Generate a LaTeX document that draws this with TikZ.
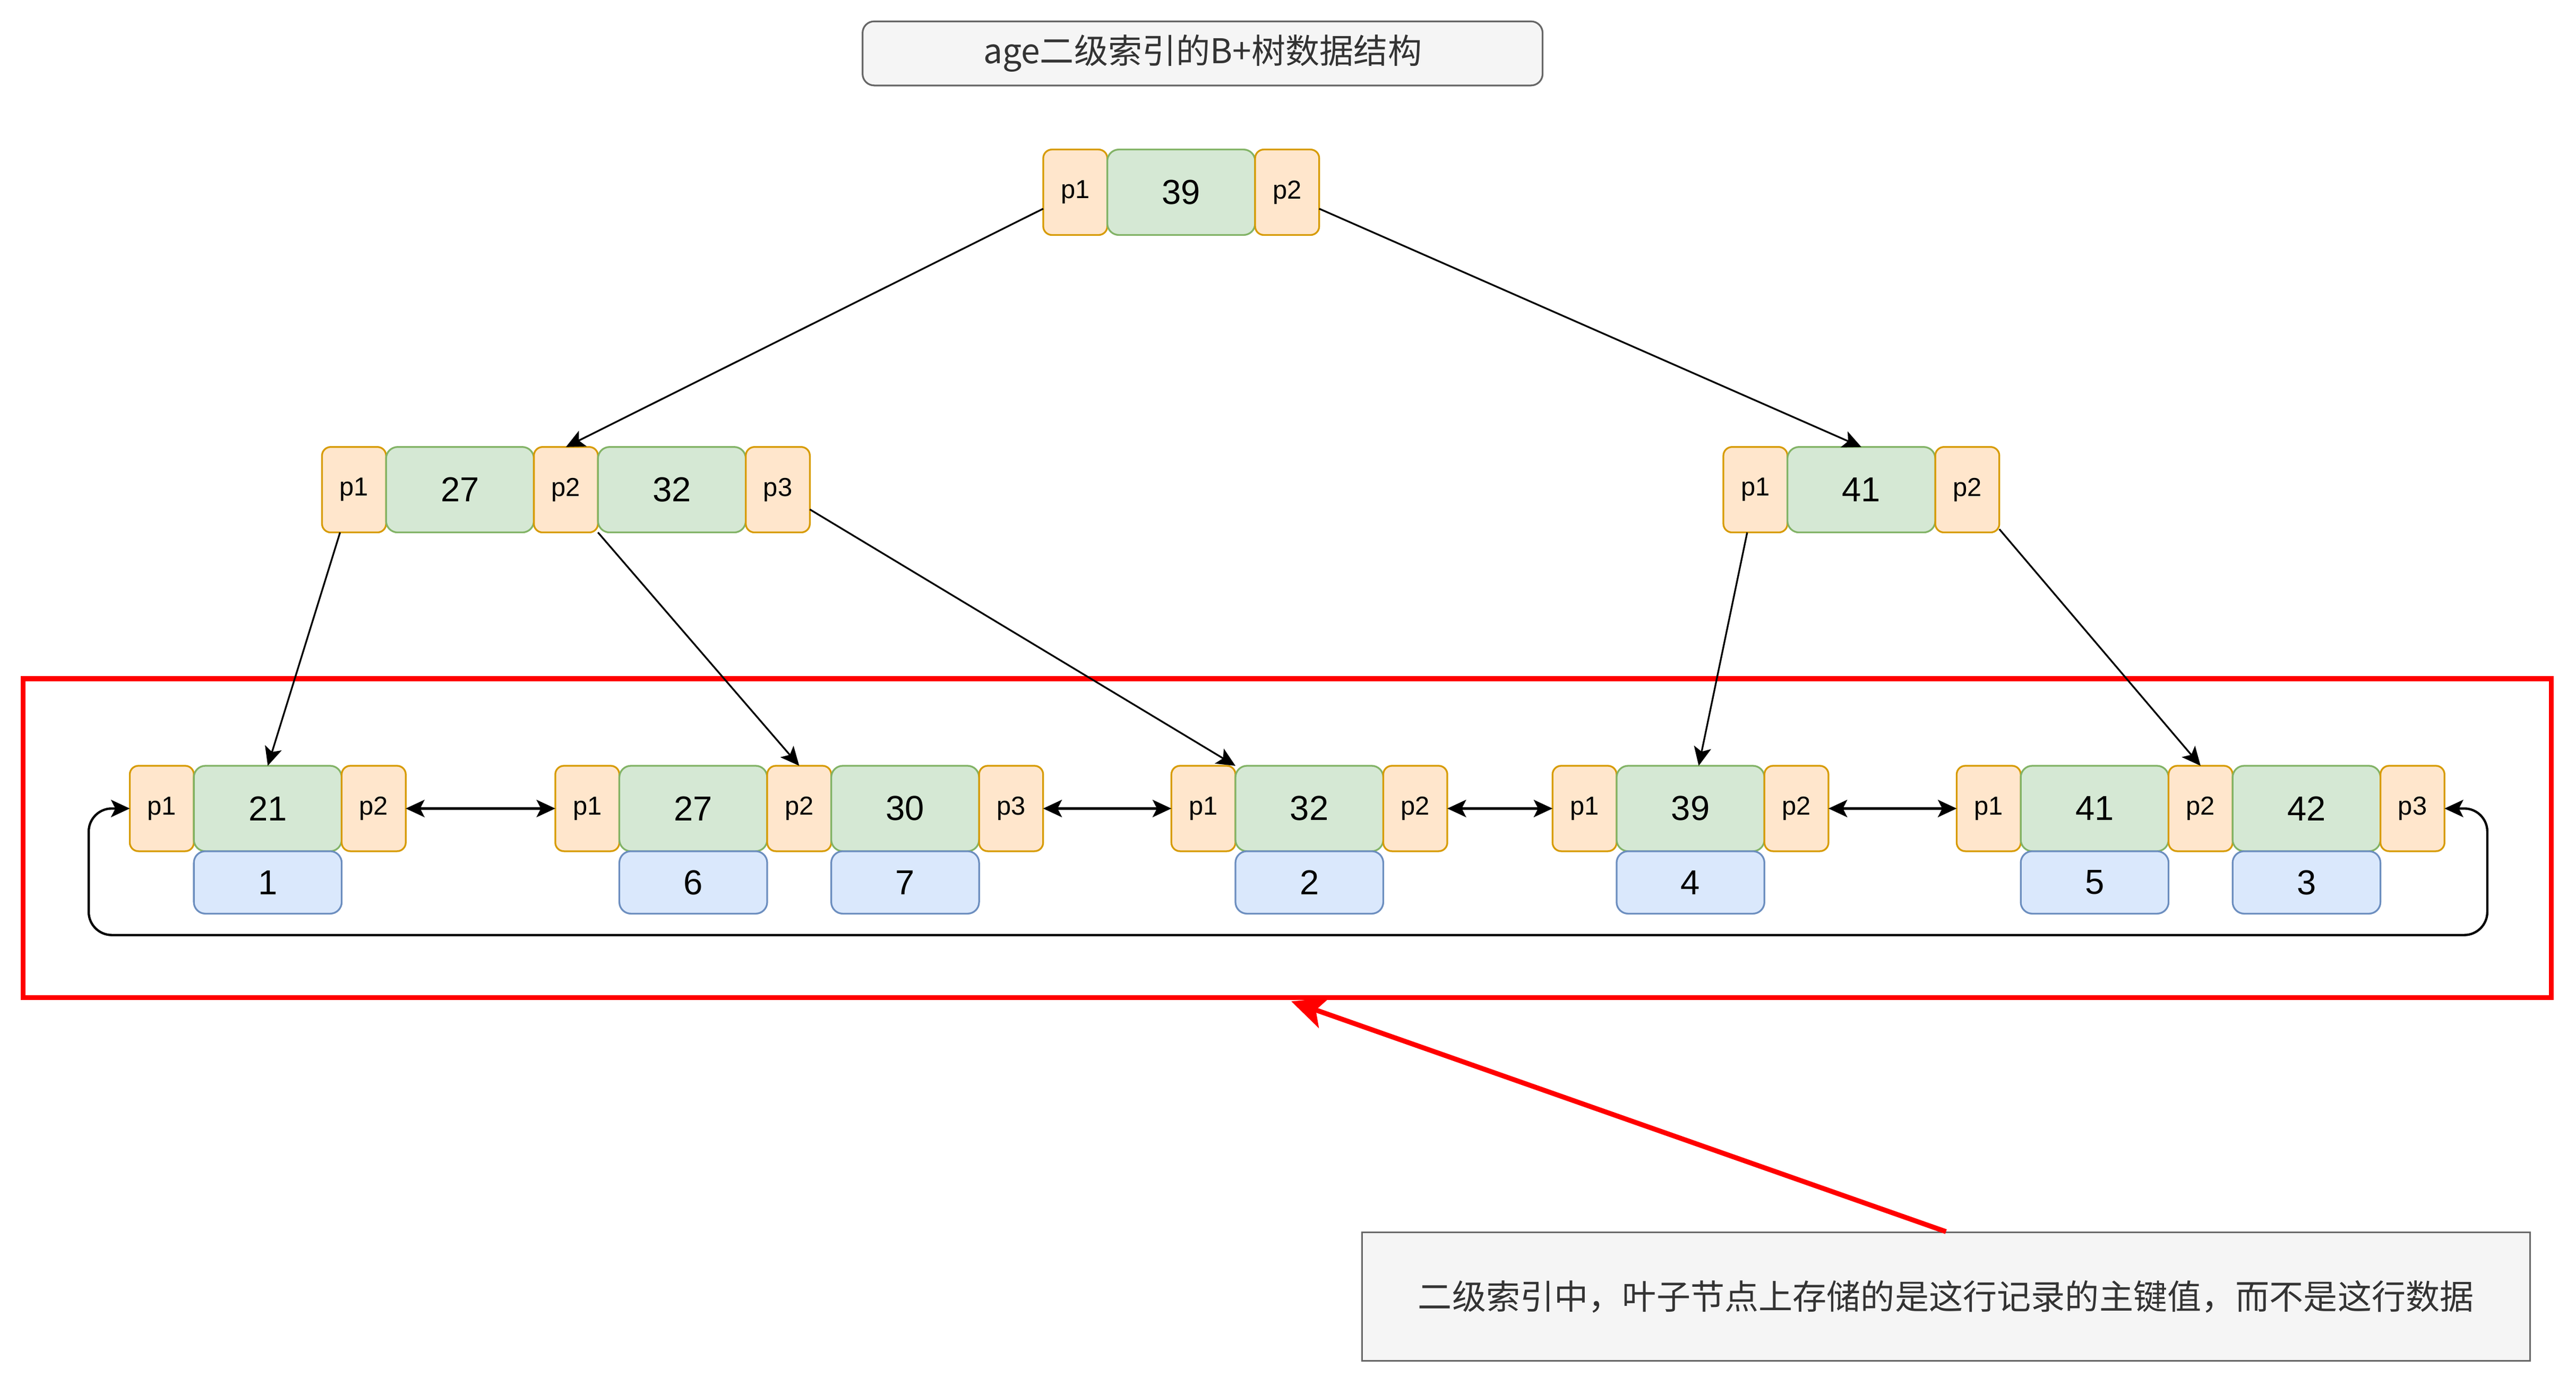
\documentclass[tikz,border=0pt]{standalone}
\usepackage{fontspec}
\setmainfont{Liberation Sans}
\newfontfamily\cjk{Noto Sans CJK SC}
\usepackage{xcolor}
\usepackage{tikz}
\usetikzlibrary{arrows.meta}
\usetikzlibrary{positioning}
\definecolor{ptrfill}{HTML}{FFE6CC}
\definecolor{ptrline}{HTML}{D79B00}
\definecolor{keyfill}{HTML}{D5E8D4}
\definecolor{keyline}{HTML}{82B366}
\definecolor{valfill}{HTML}{DAE8FC}
\definecolor{valline}{HTML}{6C8EBF}
\definecolor{notefill}{HTML}{F5F5F5}
\definecolor{noteline}{HTML}{666666}
\definecolor{notetext}{HTML}{333333}
\tikzset{>={Stealth[length=6.5pt,width=6pt,inset=1.5pt]}}
\tikzset{
  ptr/.style = {rectangle, rounded corners=3pt, draw=ptrline, fill=ptrfill, line width=0.6pt, inner sep=0, outer sep=0,
                minimum width=0.78cm, minimum height=1.04cm, font=\fontsize{9}{10}\selectfont},
  key/.style = {rectangle, rounded corners=4pt, draw=keyline, fill=keyfill, line width=0.6pt, inner sep=0, outer sep=0,
                minimum width=1.8cm, minimum height=1.04cm, font=\fontsize{12}{14}\selectfont},
  val/.style = {rectangle, rounded corners=4pt, draw=valline, fill=valfill, line width=0.6pt, inner sep=0, outer sep=0,
                minimum width=1.8cm, minimum height=0.76cm, font=\fontsize{12}{14}\selectfont},
  link/.style = {->, line width=0.6pt},
  chain/.style = {<->, line width=0.8pt},
}
\begin{document}
\begin{tikzpicture}[x=0.02cm, y=-0.02cm]
\useasboundingbox (0,0) rectangle (1568,842.8);
% title
\node [draw=noteline, fill=notefill, rounded corners=4pt, line width=0.6pt, text=notetext,
       minimum width=8.28cm, minimum height=0.78cm, font=\cjk\fontsize{11.8}{13}\selectfont] (title) at (732,32.5) {age二级索引的B+树数据结构};
% red frame round the leaves
\node [draw=red, line width=1.7pt, minimum width=30.78cm, minimum height=3.88cm] (leafbox) at (783.5,510) {};
% root
\node [ptr] (rp1) at (654.5,117) {p1};
\node [key, right=0pt of rp1] (r39) {39};
\node [ptr, right=0pt of r39] (rp2) {p2};
% second level, left
\node [ptr] (lp1) at (215.5,298) {p1};
\node [key, right=0pt of lp1] (l27) {27};
\node [ptr, right=0pt of l27] (lp2) {p2};
\node [key, right=0pt of lp2] (l32) {32};
\node [ptr, right=0pt of l32] (lp3) {p3};
% second level, right
\node [ptr] (mp1) at (1068.5,298) {p1};
\node [key, right=0pt of mp1] (m41) {41};
\node [ptr, right=0pt of m41] (mp2) {p2};
% leaves
\node [ptr] (ap1) at (98.5,492) {p1};
\node [key, right=0pt of ap1] (a21) {21};
\node [ptr, right=0pt of a21] (ap2) {p2};
\node [val, below=0pt of a21] (av1) {1};
\node [ptr] (bp1) at (357.5,492) {p1};
\node [key, right=0pt of bp1] (b27) {27};
\node [ptr, right=0pt of b27] (bp2) {p2};
\node [key, right=0pt of bp2] (b30) {30};
\node [ptr, right=0pt of b30] (bp3) {p3};
\node [val, below=0pt of b27] (bv6) {6};
\node [val, below=0pt of b30] (bv7) {7};
\node [ptr] (cp1) at (732.5,492) {p1};
\node [key, right=0pt of cp1] (c32) {32};
\node [ptr, right=0pt of c32] (cp2) {p2};
\node [val, below=0pt of c32] (cv2) {2};
\node [ptr] (dp1) at (964.5,492) {p1};
\node [key, right=0pt of dp1] (d39) {39};
\node [ptr, right=0pt of d39] (dp2) {p2};
\node [val, below=0pt of d39] (dv4) {4};
\node [ptr] (ep1) at (1210.5,492) {p1};
\node [key, right=0pt of ep1] (e41) {41};
\node [ptr, right=0pt of e41] (ep2) {p2};
\node [key, right=0pt of ep2] (e42) {42};
\node [ptr, right=0pt of e42] (ep3) {p3};
\node [val, below=0pt of e41] (ev5) {5};
\node [val, below=0pt of e42] (ev3) {3};
% note
\node [draw=noteline, fill=notefill, line width=0.6pt, text=notetext,
       minimum width=14.22cm, minimum height=1.56cm, font=\cjk\fontsize{11.8}{14}\selectfont] (note) at (1184.5,789) {二级索引中，叶子节点上存储的是这行记录的主键值，而不是这行数据};
% tree pointers
\draw [link] ([yshift=-0.2cm]rp1.west) to (lp2.north);
\draw [link] ([yshift=-0.2cm]rp2.east) to (m41.north);
\draw [link] ([xshift=-0.17cm]lp1.south) to (a21.north);
\draw [link] (lp2.south east) to (bp2.north);
\draw [link] ([yshift=-0.24cm]lp3.east) to (c32.north west);
\draw [link] ([xshift=-0.1cm]mp1.south) to ([xshift=0.1cm]d39.north);
\draw [link] ([yshift=0.04cm]mp2.south east) to (ep2.north);
% leaf chain
\draw [chain] (ap2) to (bp1);
\draw [chain] (bp3) to (cp1);
\draw [chain] (cp2) to (dp1);
\draw [chain] (dp2) to (ep1);
\coordinate (loopR) at (1514,569);
\coordinate (loopL) at (54,569);
\draw [chain, rounded corners=8pt] (ep3.east) -| (loopR) -- (loopL) |- (ap1.west);
% red pointer to the leaves
\draw [-{Stealth[length=12pt,width=11pt,inset=3pt]}, red, line width=1.7pt, shorten >=1.5pt] (note.north) to (leafbox.south);
\end{tikzpicture}
\end{document}
